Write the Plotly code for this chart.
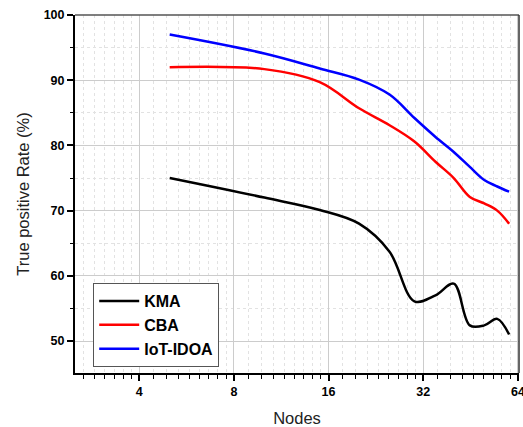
import math
import plotly.graph_objects as go

# ---- data ----
nodes = [5, 10, 15, 20, 25, 30, 35, 40, 45, 50, 55, 60]
kma = [75.0, 72.0, 70.1, 68.0, 63.7, 56.1, 57.0, 58.8, 52.4, 52.4, 53.4, 51.0]
cba = [92.0, 91.7, 89.7, 85.7, 83.1, 80.6, 77.5, 75.0, 72.1, 71.1, 70.0, 68.0]
iot_idoa = [97.0, 94.1, 91.8, 90.1, 87.8, 84.2, 81.3, 79.0, 76.7, 74.7, 73.7, 72.9]

x_tick_vals = [4, 8, 16, 32, 64]
x_tick_text = ["4", "8", "16", "32", "64"]
y_tick_vals = [50, 60, 70, 80, 90, 100]

series = [("KMA", kma, "#000000"), ("CBA", cba, "#ff0000"), ("IoT-IDOA", iot_idoa, "#0000ff")]

# minor ticks: each octave split into 9 equal linear steps
x_minor = []
for base in [2, 4, 8, 16, 32]:
    for k in range(1, 9):
        v = base + base * k / 9
        if v > 2.5:
            x_minor.append(v)
y_minor = [55, 65, 75, 85, 95]

FONT = "Liberation Sans, Arial, sans-serif"

fig = go.Figure()
for name, vals, col in series:
    fig.add_trace(go.Scatter(x=nodes, y=vals, mode="lines", name=name,
                             line=dict(color=col, width=2.5, shape="spline", smoothing=1.0)))

fig.update_layout(
    width=523, height=427,
    margin=dict(l=75, r=4, t=15, b=54, autoexpand=False),
    paper_bgcolor="white", plot_bgcolor="white",
    font=dict(family=FONT, color="black"),
    showlegend=True,
    legend=dict(x=0.041, y=0.251, xanchor="left", yanchor="top",
                bgcolor="white", bordercolor="#555555", borderwidth=1,
                font=dict(family=FONT, size=16, color="black", weight="bold"),
                tracegroupgap=0, itemwidth=40),
)

fig.update_xaxes(
    type="log", range=[math.log10(2.5), math.log10(64.5)],
    automargin=False, ticklabeloverflow="allow",
    tickmode="array", tickvals=x_tick_vals, ticktext=x_tick_text,
    ticks="outside", ticklen=6, tickwidth=1.5, tickcolor="black",
    tickfont=dict(family=FONT, size=12.5, color="black", weight="bold"),
    showline=True, linecolor="black", linewidth=2,
    showgrid=True, gridcolor="#cccccc", gridwidth=1,
    zeroline=False,
    title=dict(text="Nodes", font=dict(family=FONT, size=16.5, color="#222222"), standoff=16),
    minor=dict(tickmode="array", tickvals=x_minor, ticks="outside", ticklen=4,
               tickwidth=1.2, tickcolor="black", showgrid=True,
               gridcolor="#e2e2e2", griddash="3px,3px", gridwidth=1),
)
fig.update_yaxes(
    range=[45.1, 100], tickmode="array", tickvals=y_tick_vals,
    automargin=False,
    ticks="outside", ticklen=6, tickwidth=1.5, tickcolor="black",
    tickfont=dict(family=FONT, size=12.5, color="black", weight="bold"),
    showline=True, linecolor="black", linewidth=2,
    showgrid=True, gridcolor="#cccccc", gridwidth=1,
    zeroline=False,
    title=dict(text="True positive Rate (%)", font=dict(family=FONT, size=16.5, color="#222222"), standoff=10),
    minor=dict(tickmode="array", tickvals=y_minor, ticks="outside", ticklen=3,
               tickwidth=1.2, tickcolor="black", showgrid=True,
               gridcolor="#e2e2e2", griddash="3px,3px", gridwidth=1),
)

# top and right frame lines
fig.add_shape(type="line", xref="paper", yref="paper", x0=0, x1=1, y0=1, y1=1,
              line=dict(color="#555555", width=1.5))
fig.add_shape(type="line", xref="paper", yref="paper", x0=1, x1=1, y0=0, y1=1,
              line=dict(color="#333333", width=1.5))

fig.write_html("out.html", config={"displayModeBar": False},
               post_script="document.body.style.margin='0';document.body.style.padding='0';document.body.style.overflow='hidden';")
